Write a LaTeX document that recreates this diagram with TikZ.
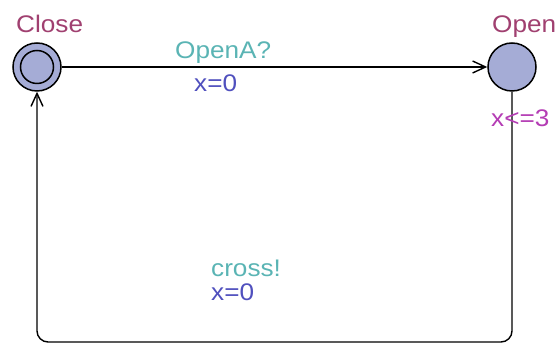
\documentclass[tikz,border=0pt]{standalone}
\usepackage{fontspec}
\setmainfont{Liberation Sans}
\usetikzlibrary{arrows.meta}
\definecolor{locname}{RGB}{160,64,112}
\definecolor{syncol}{RGB}{90,180,180}
\definecolor{updcol}{RGB}{80,80,190}
\definecolor{invcol}{RGB}{180,60,180}
\definecolor{locfill}{RGB}{165,172,214}
% labels are set slightly wide
\newcommand\widetext[1]{\scalebox{1.09}[1]{#1}}
\tikzset{
  location/.style={circle, draw=black, line width=1.5pt, fill=locfill, minimum size=48pt, inner sep=0pt},
  edge/.style={line width=1.4pt, -{Straight Barb[length=13pt,width=12pt,line width=1.4pt]}},
  lbl/.style={anchor=base west, inner sep=0pt, font=\fontsize{24}{28}\selectfont}
}
\begin{document}
\begin{tikzpicture}[x=1pt,y=-1pt]
  \useasboundingbox (0,0) rectangle (558,344);
  % locations
  \node[location] (close) at (37,67) {};
  \draw[line width=1.5pt] (close.center) circle (16.5);
  \node[location] (open) at (512,67) {};
  % location names
  \node[lbl, text=locname] (closename) at (16,33) {\widetext{Close}};
  \node[lbl, text=locname] (openname) at (492,33) {\widetext{Open}};
  % edges
  \draw[edge] (close) -- (open);
  \draw[edge, rounded corners=11pt] (open) -- (open |- 0,342) -- (close |- 0,342) -- (close);
  % invariant
  \node[lbl, text=invcol] (inv) at (491,127) {\widetext{x<=3}};
  % edge labels
  \node[lbl, text=syncol] (sync1) at (175,59) {\widetext{OpenA?}};
  \node[lbl, text=updcol] (upd1) at (194,92) {\widetext{x=0}};
  \node[lbl, text=syncol] (sync2) at (211,277) {\widetext{cross!}};
  \node[lbl, text=updcol] (upd2) at (211,301) {\widetext{x=0}};
\end{tikzpicture}
\end{document}
